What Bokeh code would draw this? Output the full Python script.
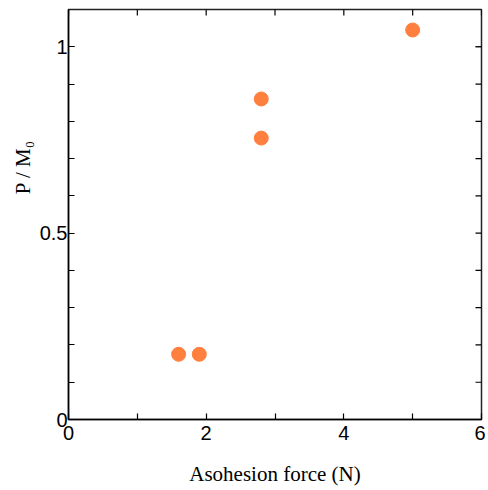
import math
from bokeh.plotting import figure
from bokeh.models import LinearAxis, Range1d, FixedTicker, CustomJSTickFormatter
from bokeh.embed import file_html
from bokeh.resources import INLINE

force = [1.6, 1.9, 2.8, 2.8, 5.0]
ratio = [0.175, 0.175, 0.86, 0.755, 1.045]
x_range = (0, 6)
y_range = (0, 1.1)
x_ticks = [0, 2, 4, 6]
x_minor = [1, 3, 5]
y_ticks = [0, 0.5, 1]
y_minor = [0.1, 0.2, 0.3, 0.4, 0.6, 0.7, 0.8, 0.9, 1.0]

p = figure(width=485, height=488, output_backend="svg", toolbar_location=None,
           x_range=Range1d(*x_range), y_range=Range1d(*y_range),
           x_axis_location=None, y_axis_location=None,
           min_border_left=68, min_border_right=4, min_border_top=9, min_border_bottom=68)
p.grid.visible = False
p.background_fill_color = "white"
p.border_fill_color = "white"
p.outline_line_color = "#222222"
p.outline_line_width = 1.5

fmt = CustomJSTickFormatter(code="return tick.toString();")

def style(ax):
    ax.axis_line_color = "black"
    ax.axis_line_width = 1.5
    ax.major_tick_in = 6
    ax.major_tick_out = 0
    ax.minor_tick_in = 6
    ax.minor_tick_out = 0
    ax.major_tick_line_color = "black"
    ax.minor_tick_line_color = "black"
    ax.major_tick_line_width = 1.2
    ax.minor_tick_line_width = 1.2
    ax.major_label_text_font = "Liberation Sans"
    ax.major_label_text_font_size = "20px"
    ax.major_label_text_color = "black"
    ax.axis_label_text_font = "Liberation Serif"
    ax.axis_label_text_font_size = "21px"
    ax.axis_label_text_font_style = "normal"
    ax.axis_label_text_color = "black"

xax = LinearAxis(ticker=FixedTicker(ticks=x_ticks, minor_ticks=x_minor), formatter=fmt)
style(xax)
xax.major_label_standoff = 6
xax.axis_label = "Asohesion force (N)"
xax.axis_label_standoff = 19
p.add_layout(xax, "below")

yax = LinearAxis(ticker=FixedTicker(ticks=y_ticks, minor_ticks=y_minor), formatter=fmt)
style(yax)
yax.major_label_standoff = 1
yax.axis_label = "\u00a0" * 18 + "P / M₀"
yax.axis_label_standoff = 2
p.add_layout(yax, "left")

# mirrored ticks on the top and right frame edges
top_x = x_ticks + x_minor
p.ray(x=top_x, y=[y_range[1]] * len(top_x), length=6, length_units="screen",
      angle=-math.pi / 2, line_color="black", line_width=1.2)
right_y = y_ticks + y_minor
p.ray(x=[x_range[1]] * len(right_y), y=right_y, length=6, length_units="screen",
      angle=math.pi, line_color="black", line_width=1.2)

p.scatter(force, ratio, size=14, color="#FF7F3F", line_color="#FF7F3F")

open("out.html", "w").write(file_html(p, INLINE))
